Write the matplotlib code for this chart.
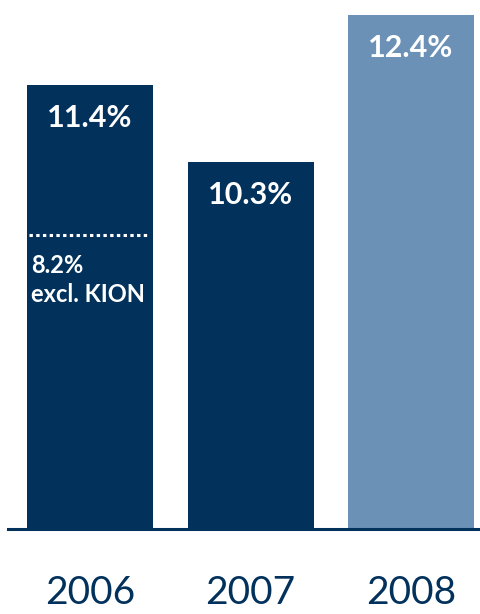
import matplotlib
matplotlib.use("Agg")
import matplotlib.pyplot as plt

# Daten
years = ["2006", "2007", "2008"]
margins = [11.4, 10.3, 12.4]
labels = ["11.4%", "10.3%", "12.4%"]
bar_colors = ["#02315C", "#02315C", "#6B91B7"]
excl_kion_level = 9.26  # position of the dotted line on the chart scale
excl_kion_text = "8.2%\nexcl. KION"

plt.rcParams['font.family'] = ['Lato', 'DejaVu Sans']

fig = plt.figure(figsize=(4.81, 6.14), dpi=100)
ax = fig.add_axes([8 / 481, 1 - 529 / 614, 473 / 481, 529 / 614])

x = range(len(years))
ax.bar(x, margins, width=0.785, color=bar_colors, zorder=2)
ax.set_xlim(-0.511, 2.436)
ax.set_ylim(5.057, 12.614)

# Grundlinie
ax.axhline(5.057, color="#02315C", lw=2.2, clip_on=False, zorder=3)

for xi, v, lab in zip(x, margins, labels):
    ax.text(xi, v - 0.47, lab, color="white", ha="center", va="center",
            fontsize=22, fontweight="bold")

# gepunktete Linie 2006
ax.plot([-0.38, 0.37], [excl_kion_level, excl_kion_level], color="white",
        lw=2.2, linestyle=(0, (1.1, 1.1)), zorder=3)
ax.text(-0.37, excl_kion_level - 0.28, excl_kion_text, color="white",
        ha="left", va="top", fontsize=17, fontweight="bold", linespacing=1.3)

ax.set_xticks(list(x))
ax.set_xticklabels(years, fontsize=28, color="#02315C")
ax.tick_params(axis="x", length=0, pad=33)
ax.set_yticks([])
for s in ax.spines.values():
    s.set_visible(False)

fig.savefig("out.png", dpi=100)
